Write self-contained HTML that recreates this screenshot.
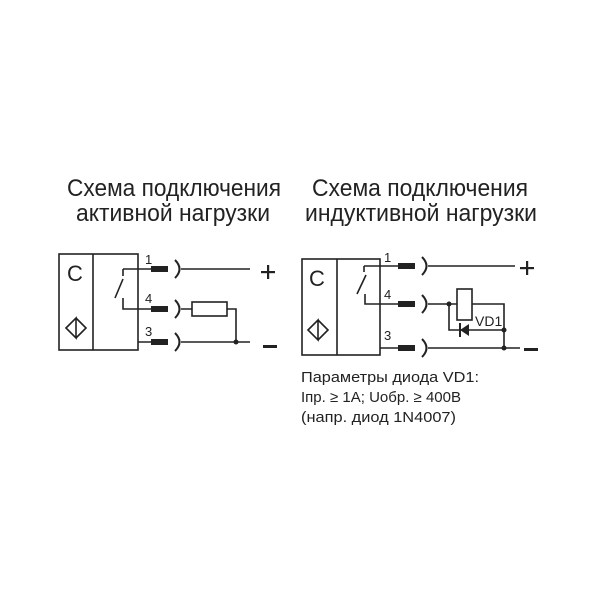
<!DOCTYPE html>
<html><head><meta charset="utf-8"><style>html,body{margin:0;padding:0;background:#fff}</style></head>
<body>
<svg width="600" height="600" viewBox="0 0 600 600" xmlns="http://www.w3.org/2000/svg" font-family="Liberation Sans, sans-serif" fill="#222">
<rect width="600" height="600" fill="#fff"/>
<g font-size="24">
<text x="67" y="196" textLength="214" lengthAdjust="spacingAndGlyphs">Схема подключения</text>
<text x="76" y="221" textLength="194" lengthAdjust="spacingAndGlyphs">активной нагрузки</text>
<text x="312" y="196" textLength="216" lengthAdjust="spacingAndGlyphs">Схема подключения</text>
<text x="305" y="221" textLength="232" lengthAdjust="spacingAndGlyphs">индуктивной нагрузки</text>
</g>
<g stroke="#222" stroke-width="1.6" fill="none">
<!-- left -->
<rect x="59" y="254" width="79" height="96"/>
<line x1="93" y1="254" x2="93" y2="350"/>
<path d="M123 269H151 M123 269V276 M123 279L115 298 M123 298V309H151 M138 342H151"/>
<path d="M175 260Q184 269 175 278 M175 300Q184 309 175 318 M175 333Q184 342 175 351" stroke-width="2"/>
<path d="M181 269H250 M181 309H192 M227 309H236V342 M181 342H250"/>
<rect x="192" y="302" width="35" height="14"/>
<path d="M66 328L76 318V338Z M76 318L86 328L76 338"/>
<!-- right -->
<rect x="302" y="259" width="78" height="96"/>
<line x1="337" y1="259" x2="337" y2="355"/>
<path d="M364 266H398 M364 266V272 M366 275L357 294 M365 294V304H398 M380 348H398"/>
<path d="M422 257Q431 266 422 275 M422 295Q431 304 422 313 M422 339Q431 348 422 357" stroke-width="2"/>
<path d="M428 266H515 M428 304H457 M472 304H504V348 M449 304V330H504 M428 348H520"/>
<rect x="457" y="289" width="15" height="31"/>
<path d="M308 330L318 320V340Z M318 320L328 330L318 340"/>
</g>
<g fill="#222">
<rect x="151" y="266" width="17" height="6"/><rect x="151" y="306" width="17" height="6"/><rect x="151" y="339" width="17" height="6"/>
<rect x="398" y="263" width="17" height="6"/><rect x="398" y="301" width="17" height="6"/><rect x="398" y="345" width="17" height="6"/>
<circle cx="236" cy="342" r="2.5"/><circle cx="449" cy="304" r="2.5"/><circle cx="504" cy="330" r="2.5"/><circle cx="504" cy="348" r="2.5"/>
<path d="M460 330L469 324V336Z"/><rect x="459" y="323" width="2" height="14"/>
<rect x="261" y="271" width="14" height="2.2"/><rect x="267" y="265" width="2.2" height="14"/>
<rect x="263" y="345" width="14" height="3"/>
<rect x="520" y="267" width="14" height="2.2"/><rect x="526" y="261" width="2.2" height="14"/>
<rect x="524" y="348" width="14" height="3"/>
</g>
<g font-size="22"><text x="67" y="281">C</text><text x="309" y="286">C</text></g>
<g font-size="13"><text x="145" y="264">1</text><text x="145" y="303">4</text><text x="145" y="336">3</text>
<text x="384" y="262">1</text><text x="384" y="299">4</text><text x="384" y="340">3</text>
<text x="475" y="326" font-size="14">VD1</text></g>
<g font-size="15">
<text x="301" y="382" textLength="178" lengthAdjust="spacingAndGlyphs">Параметры диода VD1:</text>
<text x="301" y="402" textLength="160" lengthAdjust="spacingAndGlyphs">Iпр. ≥ 1A; Uобр. ≥ 400B</text>
<text x="301" y="422" textLength="155" lengthAdjust="spacingAndGlyphs">(напр. диод 1N4007)</text>
</g>
</svg>
</body></html>
